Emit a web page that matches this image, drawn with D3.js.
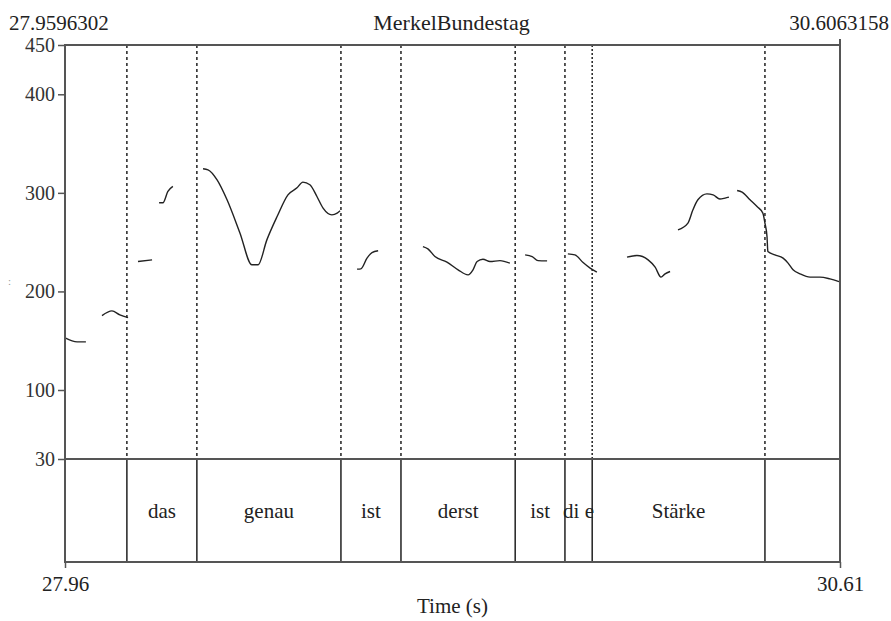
<!DOCTYPE html>
<html>
<head>
<meta charset="utf-8">
<script src="https://cdn.jsdelivr.net/npm/d3@7"></script>
<style>
  body { margin: 0; background: #fff; }
  svg text { font-family: "Liberation Serif", "DejaVu Serif", serif; fill: #222; }
</style>
</head>
<body>
<div id="chart"></div>
<script>
// time range of the selection (s)
var tStart = 27.9596302, tEnd = 30.6063158;
var title = "MerkelBundestag";
var pitchTicks = [100, 200, 300, 400, 450];
var pitchMin = 30, pitchMax = 450;

// word tier: boundaries (s) and labels of each interval
var boundaries = [28.171, 28.410, 28.902, 29.107, 29.497, 29.667, 29.760, 30.350];
var words = ["", "das", "genau", "ist", "derst", "ist", "di e", "Stärke", ""];

// pitch contour segments: [time (s), F0 (Hz)]
var pitchSegments = [
  [[27.960, 152.8], [28.001, 148.8], [28.031, 148.8]],
  [[28.086, 175.5], [28.120, 180.3], [28.147, 176.2], [28.175, 173.5]],
  [[28.209, 230.3], [28.257, 232.0]],
  [[28.281, 289.9], [28.294, 289.9], [28.311, 301.4], [28.328, 306.5]],
  [[28.431, 324.4], [28.448, 323.4], [28.479, 313.2], [28.513, 293.0], [28.557, 259.4],
   [28.598, 227.0], [28.619, 227.0], [28.649, 252.3], [28.684, 276.0], [28.721, 298.0],
   [28.752, 305.1], [28.772, 310.9], [28.796, 308.2], [28.820, 296.3], [28.841, 284.5],
   [28.871, 277.7], [28.889, 279.4], [28.899, 281.8]],
  [[28.957, 222.6], [28.970, 222.9], [28.991, 233.8], [29.008, 239.4], [29.029, 241.2]],
  [[29.182, 245.5], [29.199, 243.2], [29.223, 235.4], [29.264, 229.7], [29.302, 221.9],
   [29.336, 216.8], [29.353, 221.9], [29.367, 230.3], [29.387, 232.7], [29.411, 230.3],
   [29.445, 231.3], [29.479, 228.7]],
  [[29.531, 237.1], [29.555, 235.4], [29.575, 231.3], [29.606, 231.0]],
  [[29.677, 238.1], [29.701, 237.1], [29.729, 229.3], [29.753, 223.6], [29.776, 219.5]],
  [[29.879, 234.8], [29.913, 236.4], [29.951, 232.0], [29.975, 224.6], [29.995, 214.5],
   [30.009, 217.8], [30.026, 220.2]],
  [[30.053, 262.5], [30.087, 269.3], [30.104, 282.8], [30.121, 293.0], [30.152, 299.0],
   [30.173, 298.0], [30.196, 293.7], [30.214, 294.7], [30.227, 295.7]],
  [[30.255, 302.4], [30.272, 300.8], [30.299, 293.0], [30.323, 286.1], [30.343, 279.4],
   [30.350, 269.3], [30.357, 255.7], [30.360, 240.5], [30.384, 237.1], [30.412, 233.8],
   [30.429, 228.7], [30.446, 221.9], [30.470, 217.8], [30.504, 214.5], [30.538, 214.5],
   [30.572, 212.7], [30.603, 210.0]]
];

function drawChart() {
    var width = 891, height = 621;
    var left = 65, right = 840, top = 45, pitchBottom = 459, tierBottom = 562;

    var svg = d3.select("#chart").append("svg")
        .attr("width", width)
        .attr("height", height);

    var x = d3.scaleLinear().domain([tStart, tEnd]).range([left, right]);
    var y = d3.scaleLinear().domain([pitchMin, pitchMax]).range([pitchBottom, top]);

    var frame = "#555";

    // dashed boundary lines through the pitch area
    svg.selectAll("line.dash")
        .data(boundaries)
        .enter().append("line")
        .attr("class", "dash")
        .attr("x1", function(d) { return x(d); })
        .attr("x2", function(d) { return x(d); })
        .attr("y1", top)
        .attr("y2", pitchBottom)
        .style("stroke", "#111")
        .style("stroke-width", 1.4)
        .style("stroke-dasharray", function(d, i) { return i === 6 ? "2,2" : "3,3"; });

    // solid boundaries in the word tier
    svg.selectAll("line.tier")
        .data(boundaries)
        .enter().append("line")
        .attr("class", "tier")
        .attr("x1", function(d) { return x(d); })
        .attr("x2", function(d) { return x(d); })
        .attr("y1", pitchBottom)
        .attr("y2", tierBottom)
        .style("stroke", "#111")
        .style("stroke-width", 1.4);

    // pitch contour
    var line = d3.line()
        .x(function(d) { return x(d[0]); })
        .y(function(d) { return y(d[1]); })
        .curve(d3.curveMonotoneX);

    svg.selectAll("path.pitch")
        .data(pitchSegments)
        .enter().append("path")
        .attr("class", "pitch")
        .attr("d", line)
        .style("fill", "none")
        .style("stroke", "#222")
        .style("stroke-width", 1.4);

    // frame
    svg.append("rect")
        .attr("x", left).attr("y", top)
        .attr("width", right - left).attr("height", tierBottom - top)
        .style("fill", "none")
        .style("stroke", frame)
        .style("stroke-width", 2);
    svg.append("line")
        .attr("x1", left).attr("x2", right)
        .attr("y1", pitchBottom).attr("y2", pitchBottom)
        .style("stroke", frame).style("stroke-width", 2);
    svg.append("line")
        .attr("x1", right).attr("x2", right)
        .attr("y1", top - 6).attr("y2", top)
        .style("stroke", frame).style("stroke-width", 2);

    // y axis
    var yAxis = d3.axisLeft(y)
        .tickValues([pitchMin].concat(pitchTicks))
        .tickSize(7)
        .tickPadding(3)
        .tickFormat(d3.format("d"));
    var gy = svg.append("g")
        .attr("transform", "translate(" + left + ",0)")
        .call(yAxis);
    gy.select(".domain").remove();
    gy.selectAll(".tick line").style("stroke", frame).style("stroke-width", 1.5);
    gy.selectAll(".tick text")
        .style("font-size", "20px")
        .style("fill", "#333");

    // faint remnant of the rotated axis title
    svg.append("text")
        .attr("x", 8).attr("y", 285)
        .style("font-size", "11px")
        .style("fill", "#999")
        .text(":");

    // x axis: only start and end
    var xAxis = d3.axisBottom(x)
        .tickValues([tStart, tEnd])
        .tickSize(6)
        .tickPadding(8)
        .tickFormat(d3.format(".2f"));
    var gx = svg.append("g")
        .attr("transform", "translate(0," + tierBottom + ")")
        .call(xAxis);
    gx.select(".domain").remove();
    gx.selectAll(".tick line").style("stroke", frame).style("stroke-width", 1.5);
    gx.selectAll(".tick text")
        .style("font-size", "21px")
        .style("fill", "#222");

    // word labels
    var edges = [tStart].concat(boundaries).concat([tEnd]);
    svg.selectAll("text.word")
        .data(words)
        .enter().append("text")
        .attr("class", "word")
        .attr("x", function(d, i) { return (x(edges[i]) + x(edges[i + 1])) / 2; })
        .attr("y", 518)
        .attr("text-anchor", "middle")
        .style("font-size", "21px")
        .text(function(d) { return d; });

    // header texts
    svg.append("text")
        .attr("x", 9).attr("y", 30)
        .style("font-size", "21px")
        .text(tStart.toFixed(7));
    svg.append("text")
        .attr("x", (left + right) / 2 - 1).attr("y", 30)
        .attr("text-anchor", "middle")
        .style("font-size", "22px")
        .text(title);
    svg.append("text")
        .attr("x", 889).attr("y", 30)
        .attr("text-anchor", "end")
        .style("font-size", "21px")
        .text(tEnd.toFixed(7));

    svg.append("text")
        .attr("x", (left + right) / 2).attr("y", 613)
        .attr("text-anchor", "middle")
        .style("font-size", "21px")
        .text("Time (s)");
}

drawChart();
</script>
</body>
</html>
